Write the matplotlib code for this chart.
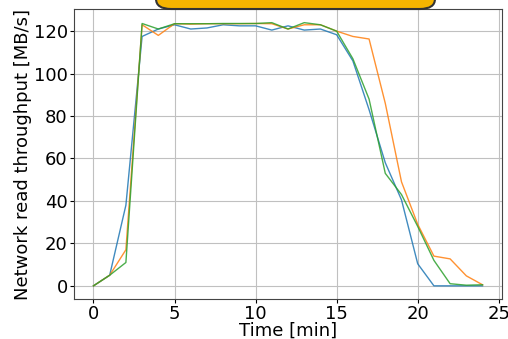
import matplotlib
matplotlib.use('Agg')
import matplotlib.pyplot as plt
from matplotlib.patches import FancyBboxPatch

# read throughput per minute for three runs
minutes = list(range(25))
run_a = [0, 5, 38, 117.5, 121, 123, 121, 121.5, 123, 122.5, 122.5, 120.5, 122.5, 120.5,
         121, 118.3, 106, 83, 58, 40.5, 10.4, 0, 0, 0, 0]
run_b = [0, 5, 17, 123, 118, 123.5, 123.3, 123.5, 123.5, 123.5, 123.6, 123.5, 121, 123,
         123, 120, 117.5, 116.3, 86, 49, 29, 14, 12.7, 4.7, 0.5]
run_c = [0, 5, 11, 123.6, 121, 123.5, 123.5, 123.5, 123.6, 123.6, 123.6, 124, 121, 124,
         123, 120, 107, 88, 53, 43, 28, 12, 1, 0.3, 0.5]

fig = plt.figure(figsize=(5.08, 3.39), dpi=100)
ax = fig.add_axes([0.1457, 0.118, 0.8425, 0.854])

ax.plot(minutes, run_a, color='tab:blue', lw=1, alpha=0.85)
ax.plot(minutes, run_b, color='tab:orange', lw=1, alpha=0.85)
ax.plot(minutes, run_c, color='tab:green', lw=1, alpha=0.85)

ax.set_xlabel('Time [min]', fontsize=13, labelpad=-1)
ax.set_ylabel('Network read throughput [MB/s]', fontsize=13, labelpad=1)
ax.tick_params(labelsize=13, length=3, pad=1.5)
ax.set_xticks([0, 5, 10, 15, 20, 25])
ax.set_yticks([0, 20, 40, 60, 80, 100, 120])
ax.grid(True, color='#c0c0c0')
for side in ax.spines.values():
    side.set_color('#444444')

# banner running off the top edge
banner = FancyBboxPatch((156 / 508, 1 - 9 / 339), 279 / 508, 0.2,
                        boxstyle='round,pad=0,rounding_size=0.03',
                        transform=fig.transFigure, facecolor='#f5b400',
                        edgecolor='#333333', lw=1.5, clip_on=False)
fig.patches.append(banner)

fig.savefig('out.png', dpi=100)
